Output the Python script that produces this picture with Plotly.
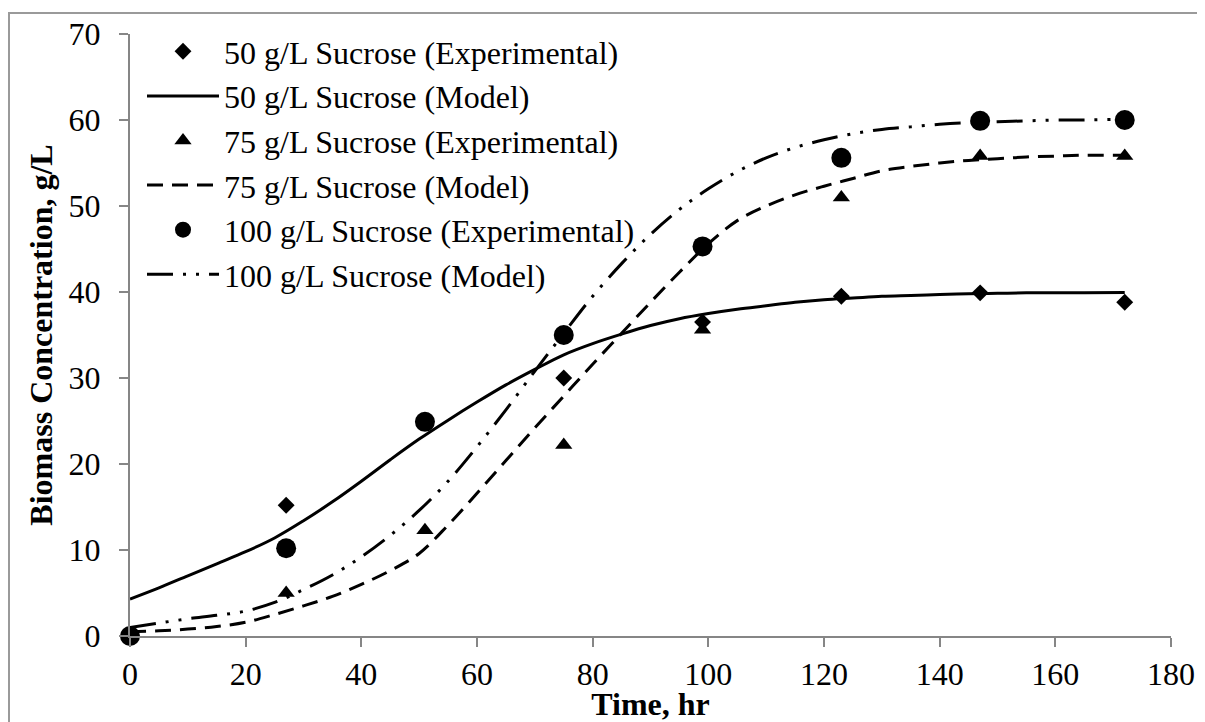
import plotly.graph_objects as go

# Experimental data
t_exp = [0, 27, 51, 75, 99, 123, 147, 172]
exp_50 = [0, 15.2, 24.9, 30.0, 36.5, 39.5, 39.9, 38.8]
exp_75 = [0, 5.0, 12.3, 22.2, 35.6, 51.0, 55.8, 55.8]
exp_100 = [0, 10.2, 24.9, 35.0, 45.3, 55.6, 59.9, 60.0]

# Model curves
t_model = [0, 5, 10, 15, 20, 25, 30, 35, 40, 45, 50, 55, 60, 65, 70, 75, 80, 85,
           90, 95, 100, 105, 110, 115, 120, 125, 130, 135, 140, 145, 150, 155, 160, 165, 172]
model_50 = [4.3, 5.6, 7.0, 8.4, 9.8, 11.4, 13.4, 15.6, 18.0, 20.5, 22.9, 25.1, 27.2, 29.2,
            31.0, 32.7, 34.0, 35.1, 36.1, 36.9, 37.5, 38.0, 38.4, 38.8, 39.1, 39.3, 39.5,
            39.6, 39.7, 39.8, 39.85, 39.9, 39.9, 39.9, 39.95]
model_75 = [0.5, 0.6, 0.8, 1.1, 1.6, 2.5, 3.5, 4.6, 6.0, 7.6, 9.6, 12.9, 16.6, 20.4, 24.2,
            27.9, 31.6, 35.2, 38.8, 42.3, 45.6, 48.3, 50.0, 51.3, 52.3, 53.2, 54.1, 54.6,
            55.0, 55.3, 55.5, 55.7, 55.8, 55.9, 55.9]
model_100 = [1.0, 1.5, 2.0, 2.4, 2.9, 3.9, 5.4, 7.1, 9.2, 11.7, 14.6, 18.0, 22.0, 26.3, 30.8,
             35.2, 39.5, 43.3, 46.7, 49.6, 52.0, 54.0, 55.6, 56.8, 57.7, 58.4, 58.9, 59.2,
             59.5, 59.7, 59.8, 59.9, 60.0, 60.0, 60.1]

names = ["50 g/L Sucrose (Experimental)", "50 g/L Sucrose (Model)",
         "75 g/L Sucrose (Experimental)", "75 g/L Sucrose (Model)",
         "100 g/L Sucrose (Experimental)", "100 g/L Sucrose (Model)"]

x_ticks = [0, 20, 40, 60, 80, 100, 120, 140, 160, 180]
y_ticks = [0, 10, 20, 30, 40, 50, 60, 70]

FONT = "Liberation Serif, Times New Roman, serif"
FS = 32
fig = go.Figure()
fig.add_trace(go.Scatter(x=t_exp, y=exp_50, mode="markers", name=names[0], legendgroup="a",
                         cliponaxis=False,
                         marker=dict(symbol="diamond", size=13, color="black")))
fig.add_trace(go.Scatter(x=t_model, y=model_50, mode="lines", name=names[1], legendgroup="b",
                         line=dict(color="black", width=3, shape="spline")))
fig.add_trace(go.Scatter(x=t_exp, y=exp_75, mode="markers", name=names[2], legendgroup="c",
                         cliponaxis=False,
                         marker=dict(symbol="triangle-up", size=15, color="black")))
fig.add_trace(go.Scatter(x=t_model, y=model_75, mode="lines", name=names[3], legendgroup="d",
                         line=dict(color="black", width=3, shape="spline", dash="16px,9px")))
fig.add_trace(go.Scatter(x=t_exp, y=exp_100, mode="markers", name=names[4], legendgroup="e",
                         cliponaxis=False,
                         marker=dict(symbol="circle", size=20, color="black")))
fig.add_trace(go.Scatter(x=t_model, y=model_100, mode="lines", name=names[5], legendgroup="f",
                         line=dict(color="black", width=3, shape="spline",
                                   dash="26px,10px,3px,10px,3px,10px")))

axis_col = "#868686"
# page has an 8px body margin: figure is 1197x714, plot area at page x 130..1171, y 34..636
fig.update_layout(
    template="none",
    width=1197, height=714,
    margin=dict(l=122, r=34, t=26, b=86),
    paper_bgcolor="white", plot_bgcolor="white",
    font=dict(family=FONT, size=FS, color="black"),
    showlegend=True,
    legend=dict(x=(142 - 130) / 1041, y=(636 - 24) / 602, xanchor="left", yanchor="top",
                bgcolor="rgba(0,0,0,0)", borderwidth=0,
                font=dict(family=FONT, size=FS, color="black"), tracegroupgap=0,
                itemwidth=72),
    xaxis=dict(range=[0, 180], tickvals=x_ticks, ticktext=[str(v) for v in x_ticks],
               automargin=False,
               showgrid=False, zeroline=False, showline=True, linecolor=axis_col, linewidth=2,
               ticks="outside", ticklen=9, tickcolor=axis_col, tickwidth=1.5,
               tickfont=dict(family=FONT, size=FS, color="black"),
               title=dict(text="<b>Time, hr</b>", font=dict(family=FONT, size=FS, color="black"),
                          standoff=0)),
    yaxis=dict(range=[0, 70], tickvals=y_ticks, ticktext=[str(v) for v in y_ticks],
               automargin=False,
               showgrid=False, zeroline=False, showline=True, linecolor=axis_col, linewidth=2,
               ticks="outside", ticklen=9, tickcolor=axis_col, tickwidth=1.5,
               ticklabelstandoff=12,
               tickfont=dict(family=FONT, size=FS, color="black"),
               title=dict(text="<b>Biomass Concentration, g/L</b>",
                          font=dict(family=FONT, size=FS, color="black"), standoff=6)),
    shapes=[dict(type="rect", xref="paper", yref="paper",
                 x0=(9 - 130) / 1041, x1=(1215 - 130) / 1041,
                 y0=(636 - 730) / 602, y1=(636 - 13) / 602,
                 line=dict(color="#9a9a9a", width=2), fillcolor="rgba(0,0,0,0)", layer="below")],
)
fig.write_html("out.html")
